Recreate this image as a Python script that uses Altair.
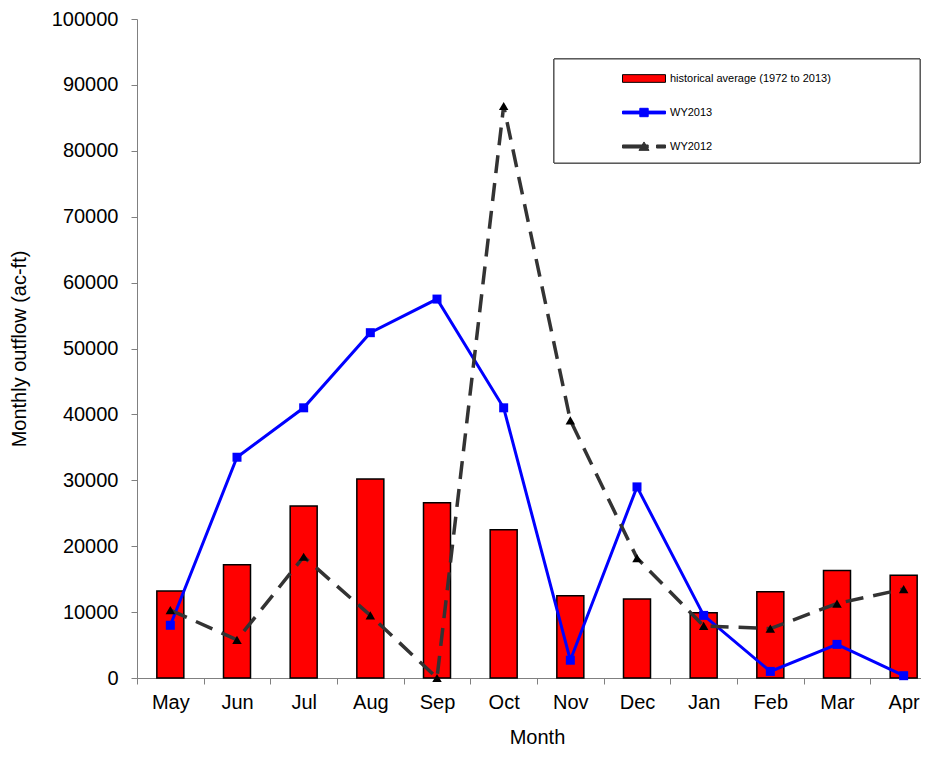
import altair as alt
import pandas as pd

months = ["May", "Jun", "Jul", "Aug", "Sep", "Oct", "Nov", "Dec", "Jan", "Feb", "Mar", "Apr"]
hist_avg = [13200, 17200, 26100, 30200, 26600, 22500, 12500, 12000, 9900, 13100, 16300, 15600]
wy2013 = [8000, 33500, 41000, 52400, 57500, 41000, 2700, 29000, 9500, 1000, 5100, 350]
wy2012 = [10300, 5800, 18400, 9500, 0, 86800, 39100, 18200, 7900, 7500, 11300, 13500]
series = ["historical average (1972 to 2013)", "WY2013", "WY2012"]

df = pd.DataFrame({"month": months, "hist": hist_avg, "wy2013": wy2013, "wy2012": wy2012})
leg_df = pd.DataFrame({"series": series})

FONT = "Liberation Sans"

x_scale = alt.Scale(domain=months, paddingInner=0, paddingOuter=0)
y_scale = alt.Scale(domain=[0, 100000], nice=False)

x_enc = alt.X("month:N", scale=x_scale, sort=months, title="Month",
              axis=alt.Axis(labelAngle=0, tickBand="extent", grid=False,
                            domainColor="#808080", tickColor="#808080", tickSize=6,
                            labelFont=FONT, labelFontSize=20, labelColor="black", labelPadding=8,
                            titleFont=FONT, titleFontSize=20, titleFontWeight="normal",
                            titleColor="black", titlePadding=15))

y_axis = alt.Axis(values=list(range(0, 100001, 10000)), format="d", grid=False,
                  domainColor="#808080", tickColor="#808080", tickSize=6,
                  labelFont=FONT, labelFontSize=20, labelColor="black", labelPadding=13,
                  titleFont=FONT, titleFontSize=20, titleFontWeight="normal",
                  titleColor="black", titlePadding=22)

base = alt.Chart(df)

bars = base.mark_bar(size=27, color="#ff0000", stroke="black", strokeWidth=1.5).encode(
    x=x_enc,
    y=alt.Y("hist:Q", scale=y_scale, axis=y_axis, title="Monthly outflow (ac-ft)"),
)

line13 = base.mark_line(color="#0000ff", strokeWidth=3).encode(
    x=alt.X("month:N", sort=months), y=alt.Y("wy2013:Q"))
pts13 = base.mark_point(shape="square", size=81, filled=True, color="#0000ff", opacity=1).encode(
    x=alt.X("month:N", sort=months), y=alt.Y("wy2013:Q"))

line12 = base.mark_line(color="#333333", strokeWidth=3.5, strokeDash=[18, 10]).encode(
    x=alt.X("month:N", sort=months), y=alt.Y("wy2012:Q"))
pts12 = base.mark_point(shape="triangle-up", size=90, filled=True, color="black", opacity=1).encode(
    x=alt.X("month:N", sort=months), y=alt.Y("wy2012:Q"))

# legend frame (decoration only)
frame = alt.Chart(leg_df).mark_rect(fill="white", stroke="#444444", strokeWidth=1).encode(
    x=alt.value(417), x2=alt.value(783), y=alt.value(40), y2=alt.value(144))

sym_bar = "M-3.07,-0.55H3.07V0.55H-3.07Z"
sym_13 = "M-3.07,-0.2H3.07V0.2H-3.07Z M-0.6,-0.6H0.6V0.6H-0.6Z"
sym_12 = "M-3.07,-0.22H0.6V0.22H-3.07Z M0,-0.65L0.72,0.55H-0.72Z M1.79,-0.22H3.07V0.22H1.79Z"

leg = alt.Legend(title=None, orient="none", legendX=417, legendY=40, padding=12,
                 symbolSize=196, symbolOffset=70.5, labelOffset=18.5, rowPadding=20,
                 labelLimit=400, symbolOpacity=1, symbolFillColor="white",
                 symbolStrokeWidth=1, labelFont=FONT, labelFontSize=11, labelColor="black")

legend_layer = alt.Chart(leg_df).mark_point(opacity=0, filled=True).encode(
    fill=alt.Fill("series:N", scale=alt.Scale(domain=series, range=["#ff0000", "#0000ff", "#333333"]), legend=leg),
    stroke=alt.Stroke("series:N", scale=alt.Scale(domain=series, range=["black", "#0000ff", "#333333"]), legend=leg),
    shape=alt.Shape("series:N", scale=alt.Scale(domain=series, range=[sym_bar, sym_13, sym_12]), legend=leg),
)

chart = alt.layer(bars, line13, pts13, line12, pts12, frame, legend_layer).properties(
    width=800, height=659,
    autosize=alt.AutoSizeParams(type="none"),
    padding={"left": 129, "top": 11, "right": -16, "bottom": 70},
).configure_view(stroke=None).configure_axisY(titleAngle=-90)

chart.save("out.html", embed_options={"renderer": "svg", "actions": False})
